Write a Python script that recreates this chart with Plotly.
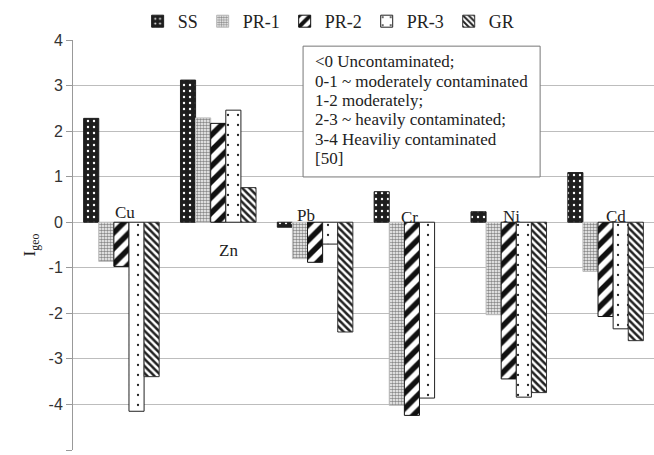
import plotly.graph_objects as go

metals = ["Cu", "Zn", "Pb", "Cr", "Ni", "Cd"]
series_names = ["SS", "PR-1", "PR-2", "PR-3", "GR"]
ss = [2.28, 3.12, -0.11, 0.67, 0.23, 1.09]
pr1 = [-0.86, 2.29, -0.80, -4.02, -2.03, -1.08]
pr2 = [-0.97, 2.17, -0.88, -4.24, -3.44, -2.07]
pr3 = [-4.15, 2.46, -0.48, -3.86, -3.84, -2.34]
gr = [-3.39, 0.76, -2.41, None, -3.74, -2.60]
values = [ss, pr1, pr2, pr3, gr]
y_ticks = [4, 3, 2, 1, 0, -1, -2, -3, -4, -5]
y_tick_labels = ["4", "3", "2", "1", "0", "-1", "-2", "-3", "-4", "-5"]
note_lines = ["<0 Uncontaminated;", "0-1 ~ moderately contaminated", "1-2 moderately;",
              "2-3 ~ heavily contaminated;", "3-4 Heaviliy contaminated", "[50]"]

patterns = [
    dict(shape=".", bgcolor="#1e1e1e", fgcolor="#ffffff", size=6, solidity=0.12, fillmode="replace"),
    dict(shape=".", bgcolor="#ffffff", fgcolor="#8a8a8a", size=3, solidity=0.55, fillmode="replace"),
    dict(shape="/", bgcolor="#ffffff", fgcolor="#111111", size=11, solidity=0.5, fillmode="replace"),
    dict(shape=".", bgcolor="#ffffff", fgcolor="#222222", size=10, solidity=0.04, fillmode="replace"),
    dict(shape="\\", bgcolor="#ffffff", fgcolor="#222222", size=5, solidity=0.5, fillmode="replace"),
]
line_colors = ["#1e1e1e", "#bbbbbb", "#111111", "#222222", "#333333"]

fig = go.Figure()
for name, vals, pat, lc in zip(series_names, values, patterns, line_colors):
    fig.add_trace(go.Bar(
        name=name, x=metals, y=vals,
        marker=dict(color="white", pattern=pat, line=dict(color=lc, width=1)),
    ))

label_shift = {"Cu": (4, 10), "Zn": (10, -28), "Pb": (-9, 7), "Cr": (-2, 5), "Ni": (3, 6), "Cd": (10, 6)}
for m in metals:
    xs, ys = label_shift[m]
    fig.add_annotation(x=m, y=0, xref="x", yref="y", text=m, showarrow=False,
                       xshift=xs, yshift=ys,
                       font=dict(family="Liberation Serif", size=17, color="#222"))

# note box
fig.add_shape(type="rect", xref="paper", yref="paper", x0=0.396, x1=0.804, y0=0.666, y1=0.985,
              line=dict(color="#777", width=1), fillcolor="white", layer="above")
for i, line in enumerate(note_lines):
    fig.add_annotation(xref="paper", yref="paper", x=0.413, y=0.947 - i * 0.0472,
                       xanchor="left", yanchor="middle", showarrow=False, text=line,
                       font=dict(family="Liberation Serif", size=17, color="#222"))

fig.update_layout(
    width=654, height=455,
    margin=dict(l=73, r=0, t=40, b=5),
    paper_bgcolor="white", plot_bgcolor="white",
    barmode="group", bargap=0.22, bargroupgap=0,
    legend=dict(orientation="h", x=0.44, xanchor="center", y=1.0, yanchor="bottom",
                font=dict(family="Liberation Serif", size=18, color="#222"),
                itemwidth=30, tracegroupgap=0),
    showlegend=True,
)
fig.update_xaxes(showticklabels=False, showgrid=False, showline=False, ticks="")
fig.update_yaxes(range=[-5, 4], tickvals=y_ticks, ticktext=y_tick_labels,
                 showgrid=True, gridcolor="#bdbdbd", gridwidth=1,
                 showline=True, linecolor="#999", ticks="outside", ticklen=6, tickcolor="#999",
                 zeroline=False,
                 tickfont=dict(family="Liberation Sans", size=16, color="#333"),
                 title=dict(text="I<sub>geo</sub>", font=dict(family="Liberation Serif", size=17, color="#222"),
                            standoff=8))

fig.write_html("out.html")
